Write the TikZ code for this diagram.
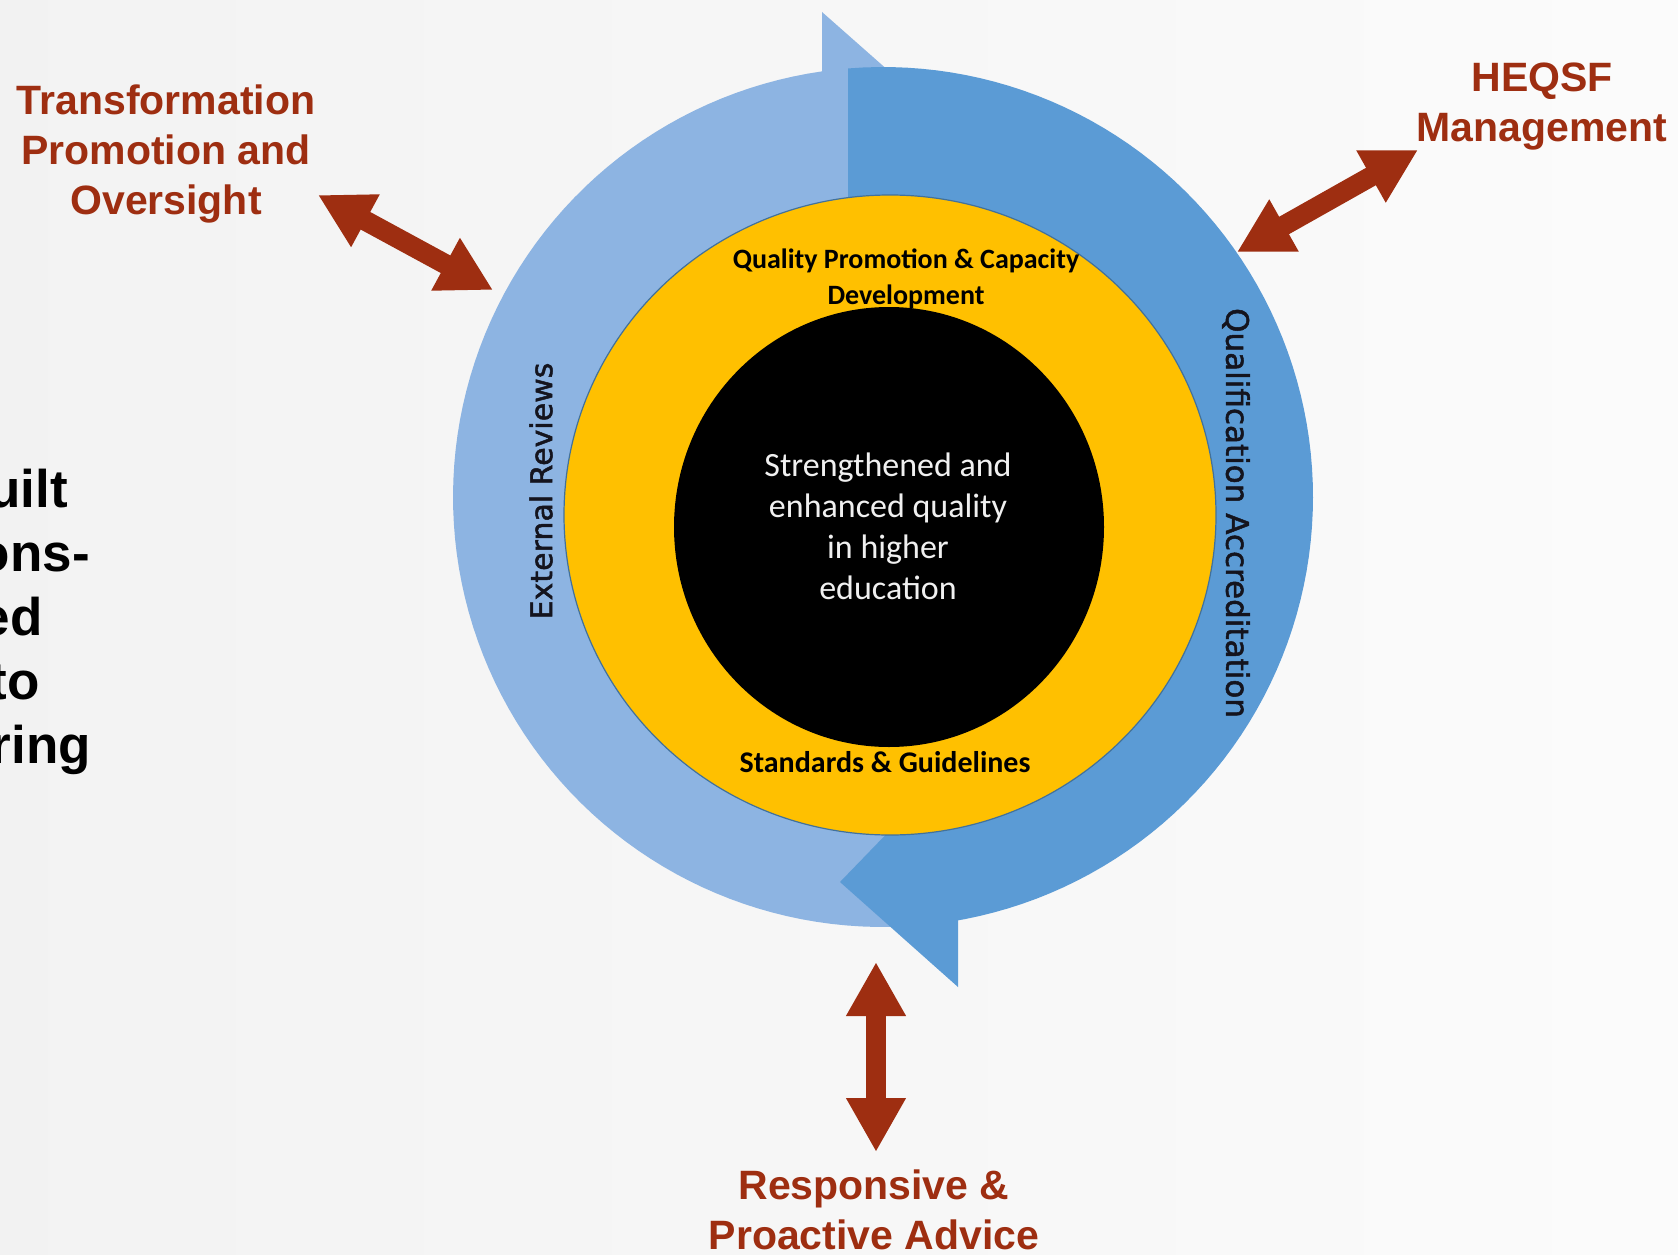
\documentclass[tikz,border=0pt]{standalone}
\usepackage{fontspec}
\setmainfont{Liberation Sans}
\newfontfamily\carlitofam{Carlito}
\newfontfamily\dejavufam{DejaVu Sans}[FakeBold=1.6]
\usetikzlibrary{arrows.meta}
\definecolor{rust}{RGB}{158,46,17}
\definecolor{bandlight}{RGB}{141,180,226}
\definecolor{banddark}{RGB}{91,155,213}
\definecolor{core}{RGB}{255,192,0}
\definecolor{coreedge}{RGB}{65,113,156}
\definecolor{ink}{RGB}{20,20,30}

\begin{document}
\begin{tikzpicture}[x=1pt,y=-1pt,
  rustlabel/.style={text=rust,font=\bfseries\fontsize{41}{50}\selectfont,align=center,inner sep=0pt},
  sidetext/.style={text=black,font=\bfseries\fontsize{53}{64}\selectfont,inner sep=0pt,anchor=base east},
  linkarrow/.style={draw=rust,line width=20pt,{Triangle[length=54pt,width=56pt]}-{Triangle[length=54pt,width=56pt]}},
  bandlabel/.style={text=ink,font=\dejavufam\fontsize{30}{36}\selectfont,inner sep=0pt},
  corelabel/.style={text=black,font=\carlitofam\bfseries\fontsize{28}{36}\selectfont,align=center,inner sep=0pt},
  centrelabel/.style={text=white!94!black,font=\carlitofam\fontsize{34}{41}\selectfont,align=center,inner sep=0pt}]

\useasboundingbox (0,0) rectangle (1678,1255);
\clip (0,0) rectangle (1678,1255);
\shade[left color=black!5,right color=black!1.5] (0,0) rectangle (1678,1255);

% cycle ring: light band with its head at the top, dark band drawn over it
\begin{scope}[shift={(883,497)}]
  \fill[bandlight] plot[domain=85:261.85,samples=90] (\x:430)
     -- (-61,-485) -- (84,-357) -- (-3,-257) -- (-61,-278)
     -- plot[domain=257.6:85,samples=90] (\x:285) -- cycle;
  \fill[banddark] plot[domain=265.33:441,samples=90] (\x:430)
     -- plot[domain=441:262.95,samples=90] (\x:285) -- cycle;
\end{scope}
\fill[banddark] (958,987) -- (840,882) -- (958,760) -- cycle;

% yellow disc and black core
\filldraw[fill=core,draw=coreedge,line width=1.2pt] (890,515) ellipse [x radius=326pt,y radius=320pt];
\fill[black] (889,527) ellipse [x radius=215pt,y radius=220pt];

\node[centrelabel] (goal) at (888,526) {Strengthened and\\enhanced quality\\in higher\\education};
\node[corelabel] (qpcd) at (906,279) {Quality Promotion \& Capacity\\Development};
\node[corelabel,font=\carlitofam\bfseries\fontsize{30}{36}\selectfont] (sg) at (885,762) {Standards \& Guidelines};
\node[bandlabel,rotate=90] (er) at (541,491) {External Reviews};
\node[bandlabel,rotate=-90,font=\dejavufam\fontsize{31}{36}\selectfont] (qa) at (1236,513) {Qualification Accreditation};

% outside functions
\node[rustlabel] (tpo) at (166,154) {Transformation\\Promotion and\\Oversight};
\node[rustlabel] (heqsf) at (1542,107) {HEQSF\\Management};
\node[rustlabel] (rpa) at (874,1210) {Responsive \&\\Proactive Advice};

\coordinate (tpoEnd) at (318,195);
\coordinate (tpoRing) at (493,290);
\coordinate (heqsfEnd) at (1418,150);
\coordinate (heqsfRing) at (1237,252);
\coordinate (rpaEnd) at (876,1152);
\coordinate (rpaRing) at (876,962);
\draw[linkarrow] (tpoEnd) -- (tpoRing);
\draw[linkarrow] (heqsfEnd) -- (heqsfRing);
\draw[linkarrow] (rpaEnd) -- (rpaRing);

% text running in from the left edge
\node[sidetext] (s1) at (68,507) {uilt};
\node[sidetext] (s2) at (90,571) {ons-};
\node[sidetext] (s3) at (43,635) {ed};
\node[sidetext] (s4) at (40,699) {to};
\node[sidetext] (s5) at (91,763) {ring};
\end{tikzpicture}
\end{document}
